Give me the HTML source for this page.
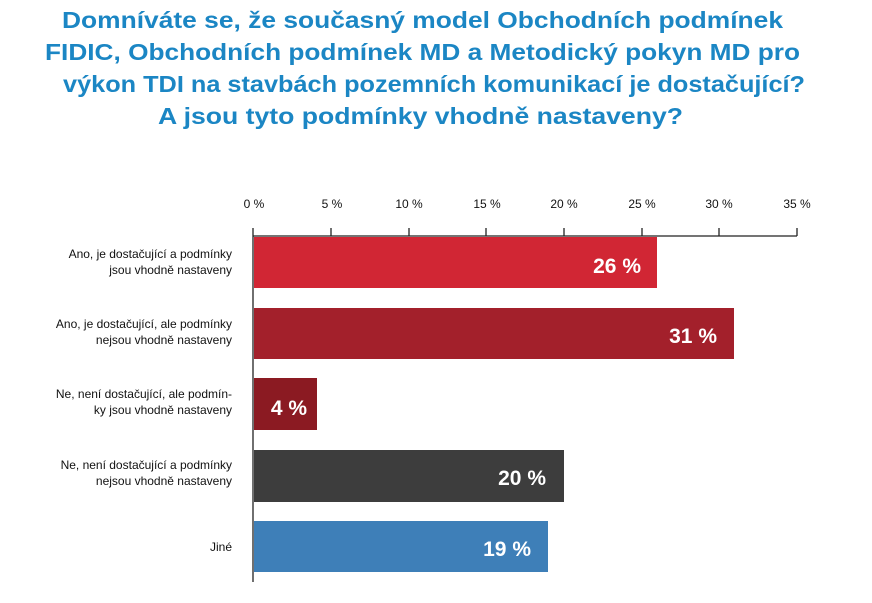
<!DOCTYPE html>
<html><head><meta charset="utf-8"><style>html,body{margin:0;padding:0;background:#fff}svg{display:block}</style></head>
<body>
<svg width="872" height="603" viewBox="0 0 872 603" xmlns="http://www.w3.org/2000/svg" font-family="Liberation Sans, sans-serif">
<g fill="#1b86c4" font-weight="bold" font-size="23">
<text x="62" y="28" textLength="721" lengthAdjust="spacingAndGlyphs">Domníváte se, že současný model Obchodních podmínek</text>
<text x="45" y="60" textLength="755" lengthAdjust="spacingAndGlyphs">FIDIC, Obchodních podmínek MD a Metodický pokyn MD pro</text>
<text x="63" y="92" textLength="742" lengthAdjust="spacingAndGlyphs">výkon TDI na stavbách pozemních komunikací je dostačující?</text>
<text x="158" y="124" textLength="525" lengthAdjust="spacingAndGlyphs">A jsou tyto podmínky vhodně nastaveny?</text>
</g>
<g font-size="12" fill="#111" text-anchor="middle">
<text x="254" y="208">0 %</text><text x="332" y="208">5 %</text><text x="409" y="208">10 %</text><text x="487" y="208">15 %</text><text x="564" y="208">20 %</text><text x="642" y="208">25 %</text><text x="719" y="208">30 %</text><text x="797" y="208">35 %</text>
</g>
<g stroke="#222" stroke-width="1.3">
<line x1="253" y1="228" x2="253" y2="582"/>
<line x1="253" y1="236" x2="797" y2="236"/>
<line x1="331" y1="228" x2="331" y2="236"/><line x1="409" y1="228" x2="409" y2="236"/><line x1="486" y1="228" x2="486" y2="236"/><line x1="564" y1="228" x2="564" y2="236"/><line x1="642" y1="228" x2="642" y2="236"/><line x1="719" y1="228" x2="719" y2="236"/><line x1="797" y1="228" x2="797" y2="236"/>
</g>
<rect x="254" y="237" width="403" height="51" fill="#d12634"/>
<rect x="254" y="308" width="480" height="51" fill="#a3202b"/>
<rect x="254" y="378" width="63" height="52" fill="#8b1a22"/>
<rect x="254" y="450" width="310" height="52" fill="#3d3d3d"/>
<rect x="254" y="521" width="294" height="51" fill="#3e7fb8"/>
<g fill="#fff" font-weight="bold" font-size="21" text-anchor="end">
<text x="641" y="273">26 %</text><text x="717" y="343">31 %</text><text x="307" y="415">4 %</text><text x="546" y="485">20 %</text><text x="531" y="556">19 %</text>
</g>
<g font-size="12" fill="#111" text-anchor="end">
<text x="232" y="258">Ano, je dostačující a podmínky</text><text x="232" y="274">jsou vhodně nastaveny</text>
<text x="232" y="328">Ano, je dostačující, ale podmínky</text><text x="232" y="344">nejsou vhodně nastaveny</text>
<text x="232" y="398">Ne, není dostačující, ale podmín-</text><text x="232" y="414">ky jsou vhodně nastaveny</text>
<text x="232" y="469">Ne, není dostačující a podmínky</text><text x="232" y="485">nejsou vhodně nastaveny</text>
<text x="232" y="551">Jiné</text>
</g>
</svg>
</body></html>
